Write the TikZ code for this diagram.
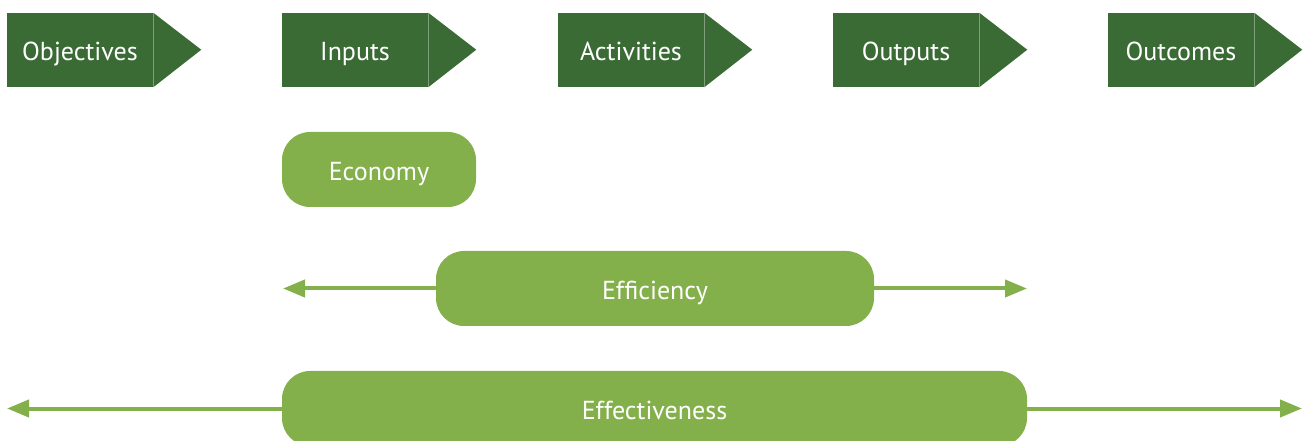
\documentclass[tikz,border=0pt]{standalone}
\usepackage{fontspec}
\setmainfont{PT Sans}
\usetikzlibrary{arrows.meta, positioning}
\definecolor{darkgreen}{RGB}{58,107,53}
\definecolor{lightgreen}{RGB}{132,176,75}

\begin{document}
\begin{tikzpicture}[x=0.75pt, y=-0.75pt,
    stage/.style={fill=darkgreen, text=white, inner sep=0pt,
        minimum width=109.5pt, minimum height=55.5pt,
        text height=16pt, text depth=0pt,
        font=\fontsize{19.5}{23}\selectfont},
    measure/.style={fill=lightgreen, text=white, inner sep=0pt,
        rounded corners=21pt, minimum height=56.25pt,
        text height=16pt, text depth=0pt,
        font=\fontsize{19.5}{23}\selectfont},
    conn/.style={draw=lightgreen, line width=3pt,
        -{Triangle[length=16.5pt, width=12.75pt]}}]
    \useasboundingbox (0,0) rectangle (1306,441);
    \clip (0,0) rectangle (1306,441);

    % the five stages of the chain
    \foreach \i/\x/\m in {
        1/80/Objectives, 2/355/Inputs, 3/631/Activities,
        4/906/Outputs, 5/1181/Outcomes}
    {
        \node[stage] (s\i) at (\x,50) {\m};
        \fill[darkgreen] (s\i.north east) -- ++(48,37) -- (s\i.south east) -- cycle;
    }

    % the three measures
    \node[measure, minimum width=145.5pt] (econ) at (379,169.5) {Economy};
    \node[measure, minimum width=328.5pt] (effic) at (655,288.5) {Efficiency};
    \node[measure, minimum width=558.75pt] (effect) at (654.5,408.5) {Effectiveness};

    \coordinate (efficL) at (283,288.5);
    \coordinate (efficR) at (1027,288.5);
    \coordinate (effectL) at (7,408.5);
    \coordinate (effectR) at (1302,408.5);

    \draw[conn] (effic.west) -- (efficL);
    \draw[conn] (effic.east) -- (efficR);
    \draw[conn] (effect.west) -- (effectL);
    \draw[conn] (effect.east) -- (effectR);
\end{tikzpicture}
\end{document}
